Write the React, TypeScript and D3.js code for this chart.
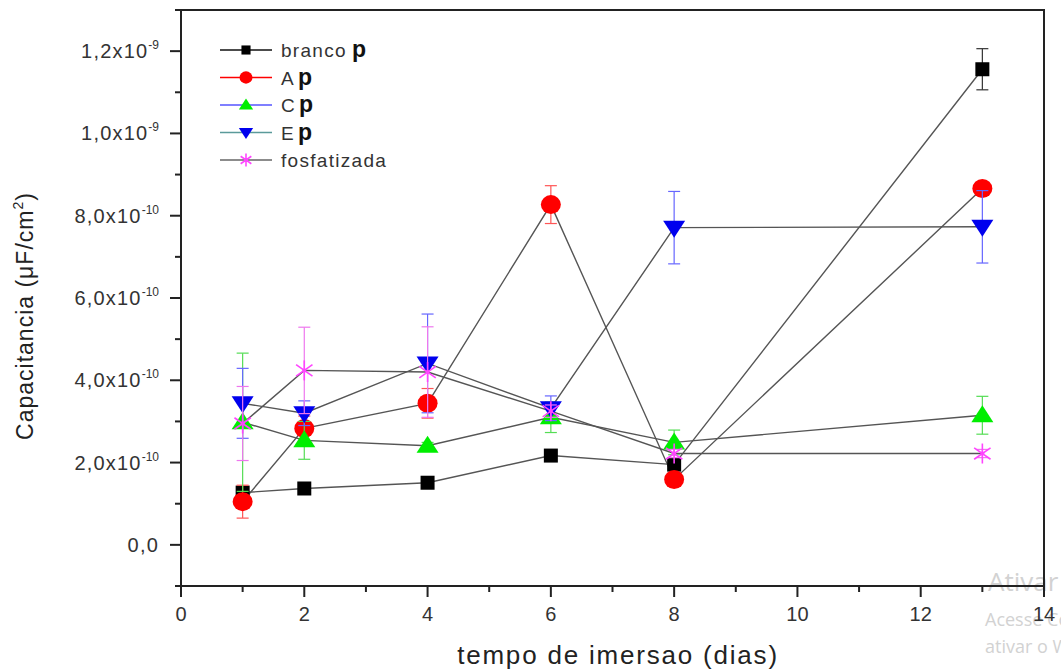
import React from 'react';
import * as d3 from 'd3';

// tempo de imersao (dias)
const days = [1, 2, 4, 6, 8, 13];

// capacitancia, in units of 1e-10 uF/cm2
const branco = [1.27, 1.37, 1.51, 2.17, 1.95, 11.56];
const brancoErr = [0.08, 0.05, 0.05, 0.05, 0.08, 0.5];
const serA = [1.05, 2.83, 3.44, 8.27, 1.59, 8.66];
const serAErr = [0.4, 0.3, 0.36, 0.46, 0.15, 0.15];
const serC = [2.98, 2.54, 2.41, 3.1, 2.49, 3.15];
const serCErr = [1.68, 0.46, 0.08, 0.37, 0.3, 0.46];
const serE = [3.44, 3.2, 4.41, 3.32, 7.71, 7.73];
const serEErr = [0.85, 0.3, 1.2, 0.3, 0.88, 0.88];
const fosf = [2.95, 4.24, 4.2, 3.25, 2.22, 2.22];
const fosfErr = [0.9, 1.05, 1.1, 0.15, 0.1, 0.1];

const yTicks = [0, 2e-10, 4e-10, 6e-10, 8e-10, 1e-9, 1.2e-9];
const yTickLabels = [['0,0', ''], ['2,0x10', '-10'], ['4,0x10', '-10'], ['6,0x10', '-10'], ['8,0x10', '-10'], ['1,0x10', '-9'], ['1,2x10', '-9']];
const xTicks = [0, 2, 4, 6, 8, 10, 12, 14];

const series = [
  { name: 'branco', bold: 'p', vals: branco, err: brancoErr, shape: 'square', color: '#000', errColor: '#333', legLine: '#111' },
  { name: 'A', bold: 'p', vals: serA, err: serAErr, shape: 'circle', color: '#f00', errColor: '#f55', legLine: '#f00' },
  { name: 'C', bold: 'p', vals: serC, err: serCErr, shape: 'up', color: '#00ee00', errColor: '#55dd55', legLine: '#5555ff' },
  { name: 'E', bold: 'p', vals: serE, err: serEErr, shape: 'down', color: '#0000ee', errColor: '#6666ff', legLine: '#5a9a9a' },
  { name: 'fosfatizada', bold: '', vals: fosf, err: fosfErr, shape: 'star', color: '#ff44ff', errColor: '#ee77ee', legLine: '#666' },
];

const font = '"Liberation Sans", Arial, sans-serif';

function Marker({ shape, cx, cy, color, s = 1 }: { shape: string; cx: number; cy: number; color: string; s?: number }) {
  if (shape === 'square') return <rect x={cx - 7 * s} y={cy - 7 * s} width={14 * s} height={14 * s} fill={color} />;
  if (shape === 'circle') return <ellipse cx={cx} cy={cy} rx={10 * s} ry={9.5 * s} fill={color} />;
  if (shape === 'up')
    return <path d={`M${cx},${cy - 10 * s}L${cx + 11 * s},${cy + 7 * s}L${cx - 11 * s},${cy + 7 * s}Z`} fill={color} />;
  if (shape === 'down')
    return <path d={`M${cx},${cy + 10 * s}L${cx + 11 * s},${cy - 7 * s}L${cx - 11 * s},${cy - 7 * s}Z`} fill={color} />;
  const r = 10 * s;
  const a = (35 * Math.PI) / 180;
  const dx = r * Math.cos(a), dy = r * Math.sin(a);
  return (
    <g stroke={color} strokeWidth={1.6}>
      <line x1={cx} y1={cy - r} x2={cx} y2={cy + r} />
      <line x1={cx - dx} y1={cy - dy} x2={cx + dx} y2={cy + dy} />
      <line x1={cx - dx} y1={cy + dy} x2={cx + dx} y2={cy - dy} />
      <circle cx={cx} cy={cy} r={2} fill={color} stroke="none" />
    </g>
  );
}

export default function App() {
  const x = d3.scaleLinear().domain([0, 14]).range([181, 1044]);
  const y = d3.scaleLinear().domain([-1e-10, 1.3e-9]).range([586, 10]);
  const line = d3
    .line<number>()
    .x((_, i) => x(days[i]))
    .y((v) => y(v * 1e-10));

  const yMinor = d3.range(-1, 14, 2).map((v) => v * 1e-10);
  const xMinor = d3.range(1, 14, 2);

  return (
    <svg width={1061} height={672} style={{ position: 'absolute', left: 0, top: 0, background: '#fff' }} fontFamily={font}>
      {/* watermark */}
      <g fill="#d2d2d2" fontFamily='"Open Sans", sans-serif'>
        <text x={988} y={591} fontSize={26}>Ativar o Windows</text>
        <text x={985} y={626} fontSize={18}>Acesse Configurações para</text>
        <text x={985} y={653} fontSize={18}>ativar o Windows.</text>
      </g>

      {/* connecting lines */}
      {series.map((s) => (
        <path key={'l' + s.name} d={line(s.vals) || ''} fill="none" stroke="#555" strokeWidth={1.4} />
      ))}

      {/* error bars and markers */}
      {series.map((s) => (
        <g key={'m' + s.name}>
          {s.vals.map((v, i) => {
            const cx = x(days[i]);
            const y1 = y((v + s.err[i]) * 1e-10);
            const y2 = y((v - s.err[i]) * 1e-10);
            return (
              <g key={i} stroke={s.errColor} strokeWidth={1.2}>
                <line x1={cx} x2={cx} y1={y1} y2={y2} />
                <line x1={cx - 6} x2={cx + 6} y1={y1} y2={y1} />
                <line x1={cx - 6} x2={cx + 6} y1={y2} y2={y2} />
              </g>
            );
          })}
          {s.vals.map((v, i) => (
            <Marker key={i} shape={s.shape} cx={x(days[i])} cy={y(v * 1e-10)} color={s.color} />
          ))}
        </g>
      ))}

      {/* frame */}
      <rect x={181} y={10} width={863} height={576} fill="none" stroke="#222" strokeWidth={2} />

      {/* y axis ticks */}
      {yTicks.map((t, i) => (
        <g key={'yt' + i}>
          <line x1={170} x2={181} y1={y(t)} y2={y(t)} stroke="#222" strokeWidth={2} />
          <text x={159} y={y(t) + 7} textAnchor="end" fontSize={20} fill="#333" letterSpacing={1.2}>
            {yTickLabels[i][0]}
            {yTickLabels[i][1] && (
              <tspan dy={-9} fontSize={12} letterSpacing={0}>
                {yTickLabels[i][1]}
              </tspan>
            )}
          </text>
        </g>
      ))}
      {yMinor.map((t, i) => (
        <line key={'ym' + i} x1={175} x2={181} y1={y(t)} y2={y(t)} stroke="#222" strokeWidth={2} />
      ))}

      {/* x axis ticks */}
      {xTicks.map((t) => (
        <g key={'xt' + t}>
          <line x1={x(t)} x2={x(t)} y1={586} y2={597} stroke="#222" strokeWidth={2} />
          <text x={x(t)} y={621} textAnchor="middle" fontSize={20} fill="#333">
            {t}
          </text>
        </g>
      ))}
      {xMinor.map((t) => (
        <line key={'xm' + t} x1={x(t)} x2={x(t)} y1={586} y2={592} stroke="#222" strokeWidth={2} />
      ))}

      {/* axis titles */}
      <text x={618} y={664} textAnchor="middle" fontSize={26} fill="#222" letterSpacing={1.8}>
        tempo de imersao (dias)
      </text>
      <text transform="translate(33,316) rotate(-90)" textAnchor="middle" fontSize={23} fill="#222" letterSpacing={1}>
        Capacitancia (μF/cm
        <tspan dy={-10} fontSize={14}>2</tspan>
        <tspan dy={10}>)</tspan>
      </text>

      {/* legend */}
      {series.map((s, i) => {
        const ly = 50 + i * 27.5;
        return (
          <g key={'lg' + s.name}>
            <line x1={220} x2={272} y1={ly} y2={ly} stroke={s.legLine} strokeWidth={1.5} />
            <Marker shape={s.shape} cx={246} cy={ly} color={s.color} s={0.65} />
            <text x={281} y={ly + 7} fontSize={19} fill="#333" letterSpacing={1.3}>
              {s.name}
              {s.bold && (
                <tspan fontWeight="bold" fontSize={23} dx={s.name.length > 1 ? 5 : 3} fill="#111">
                  {s.bold}
                </tspan>
              )}
            </text>
          </g>
        );
      })}
    </svg>
  );
}
